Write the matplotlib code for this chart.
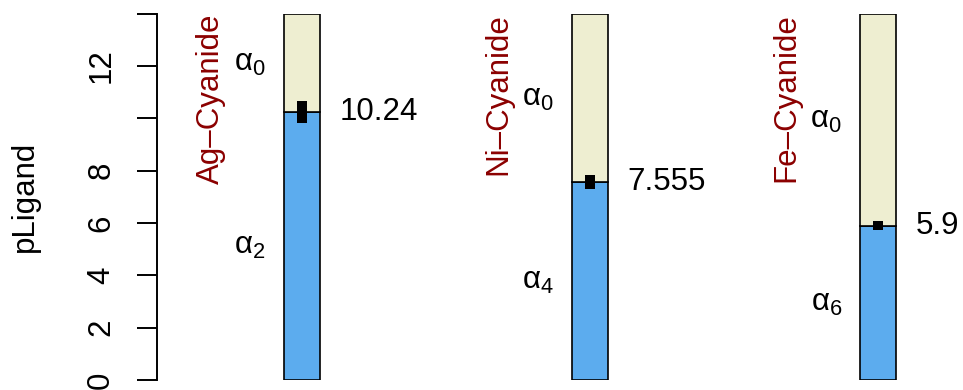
import matplotlib
matplotlib.use("Agg")
import matplotlib.pyplot as plt

plt.rcParams['font.family'] = ['Liberation Sans', 'DejaVu Sans']
plt.rcParams['mathtext.fontset'] = 'custom'
plt.rcParams['mathtext.rm'] = 'Liberation Sans'
plt.rcParams['mathtext.it'] = 'Liberation Sans'

systems = ["Ag\u2013Cyanide", "Ni\u2013Cyanide", "Fe\u2013Cyanide"]
values = [10.24, 7.555, 5.9]
value_labels = ["10.24", "7.555", "5.9"]
errors = [0.42, 0.26, 0.17]
upper_labels = [r"$\alpha_0$", r"$\alpha_0$", r"$\alpha_0$"]
lower_labels = [r"$\alpha_2$", r"$\alpha_4$", r"$\alpha_6$"]
ymax = 14
yticks = [0, 2, 4, 6, 8, 10, 12, 14]
yticklabels = ["0", "2", "4", "6", "8", "", "12", ""]

blue = "#5CACEE"
beige = "#EEEED1"
red = "#8B0000"
fs = 22.5

fig = plt.figure(figsize=(9.63, 3.90), dpi=100)
ax = fig.add_axes([157/963, 10/390, (963-157)/963, (380-13.6)/390])
ax.set_xlim(0.497, 3.295)
ax.set_ylim(0, ymax)

xs = [1, 2, 3]
bw = 0.125
for x, v, e, s, vl, ul, ll in zip(xs, values, errors, systems, value_labels, upper_labels, lower_labels):
    ax.bar(x, v, width=bw, bottom=0, color=blue, edgecolor="black", linewidth=1.2, zorder=2)
    ax.bar(x, ymax - v, width=bw, bottom=v, color=beige, edgecolor="black", linewidth=1.2, zorder=2)
    ax.bar(x, 2 * e, width=0.035, bottom=v - e, color="black", linewidth=0, zorder=3)
    ax.text(x + 0.13, v, vl, fontsize=fs, ha="left", va="center", clip_on=False)
    ax.text(x - 0.18, (v + ymax) / 2, ul, fontsize=fs, ha="center", va="center")
    ax.text(x - 0.18, v / 2, ll, fontsize=fs, ha="center", va="center")
    ax.text(x - 0.317, ymax, s, fontsize=fs, color=red, rotation=90, ha="center", va="top")

for sp in ["top", "right", "bottom"]:
    ax.spines[sp].set_visible(False)
ax.spines["left"].set_linewidth(1.4)
ax.spines["left"].set_bounds(0, ymax)
ax.set_xticks([])
ax.set_yticks(yticks)
ax.set_yticklabels(yticklabels, rotation=90, va="center", fontsize=fs)
ax.tick_params(axis="y", length=14.4, width=1.4, pad=15)
ax.set_ylabel("pLigand", fontsize=fs, labelpad=33)

fig.savefig("out.png", dpi=100)
